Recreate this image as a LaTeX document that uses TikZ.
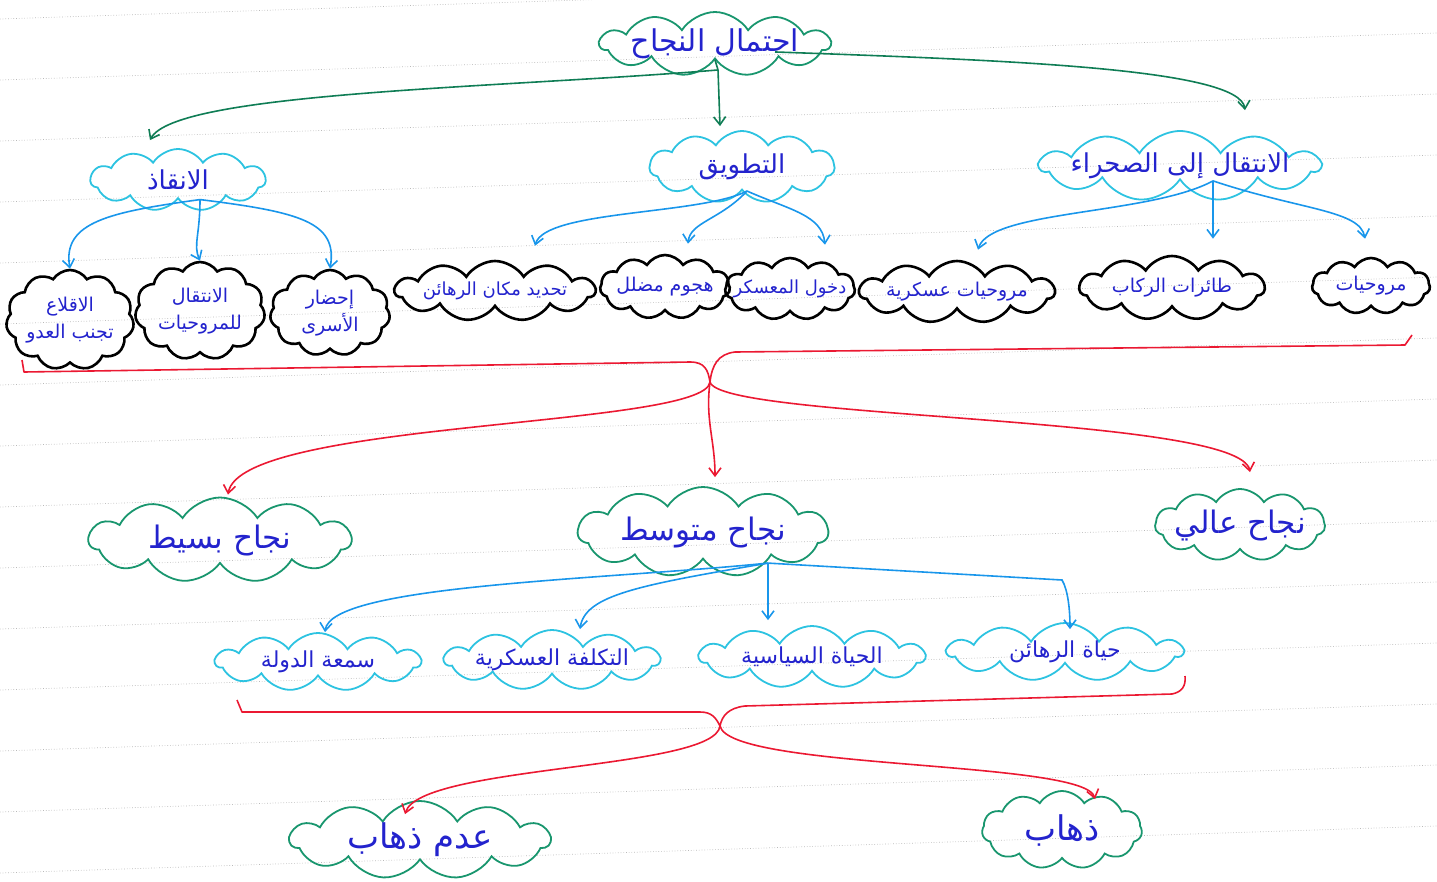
\documentclass[tikz,border=0pt]{standalone}
\usepackage{fontspec}
\TeXXeTstate=1
\newfontfamily\arfont[Script=Arabic]{DejaVu Sans}
\newcommand{\AR}[1]{{\arfont\beginR #1\endR}}
\newcommand{\Z}[1]{\makebox[0pt][c]{#1}}
\usetikzlibrary{shapes.symbols,arrows.meta,calc}
\definecolor{cgreen}{RGB}{25,150,110}
\definecolor{ccyan}{RGB}{45,195,225}
\definecolor{tblue}{RGB}{35,35,205}
\definecolor{agreen}{RGB}{15,125,85}
\definecolor{ablue}{RGB}{25,150,235}
\definecolor{cred}{RGB}{235,25,50}
\begin{document}
\begin{tikzpicture}[x=1pt,y=-1pt,
  cl/.style={cloud, cloud puffs=11, cloud puff arc=115, cloud ignores aspect, inner sep=0pt, text=tblue},
  gcl/.style={cl, draw=cgreen, line width=1.8pt},
  ccl/.style={cl, draw=ccyan, line width=1.8pt},
  bcl/.style={cl, draw=black, line width=2.6pt},
  tip/.style={-{Straight Barb[length=8pt,width=12pt,line width=1.6pt]}},
  ga/.style={draw=agreen, line width=1.6pt, tip},
  ca/.style={draw=ablue, line width=1.6pt, tip},
  ra/.style={draw=cred, line width=1.6pt, tip},
  rb/.style={draw=cred, line width=1.6pt, line join=round},
  ruled/.style={draw=gray!55, dotted, line width=0.7pt},
  ttl/.style={font=\fontsize{30}{34}\selectfont},
  big/.style={font=\fontsize{31}{36}\selectfont},
  mid/.style={font=\fontsize{26}{30}\selectfont},
  sml/.style={font=\fontsize{19}{24}\selectfont},
  two/.style={font=\fontsize{19}{27}\selectfont},
  row5/.style={font=\fontsize{22}{26}\selectfont},
  row6/.style={font=\fontsize{34}{38}\selectfont}
]
\useasboundingbox (0,0) rectangle (1437,881);
\clip (0,0) rectangle (1437,881);
\foreach \k in {0,...,14} \draw[ruled] (0,{19+61*\k}) -- (1437,{19+61*\k-47});

% top
\node[gcl, ttl, minimum width=230pt, minimum height=64pt] (top) at (715,44) {\Z{\AR{احتمال النجاح}}};

% row 2
\node[ccl, mid, minimum width=175pt, minimum height=62pt] (ingadh) at (178,180) {\Z{\AR{الانقاذ}}};
\node[ccl, mid, minimum width=185pt, minimum height=72pt] (tatwiq) at (742,167) {\Z{\AR{التطويق}}};
\node[ccl, mid, minimum width=280pt, minimum height=70pt] (intiqal) at (1180,166) {\Z{\AR{الانتقال إلى الصحراء}}};

\coordinate (j0) at ($(top.south)+(3,10)$);
\draw[draw=agreen, line width=1.6pt] (top.south) -- (j0);
\draw[ga] (j0) .. controls (500,88) and (175,92) .. ($(ingadh.north)+(-28,-8)$);
\draw[ga] (j0) -- ($(tatwiq.north)+(-22,-4)$);
\draw[ga] ($(top.south)+(60,-8)$) .. controls (1000,60) and (1240,68) .. ($(intiqal.north)+(65,-20)$);

% row 3
\node[bcl, two, minimum width=128pt, minimum height=100pt] (a1) at (70,320) {\Z{\begin{tabular}{@{}c@{}}\AR{الاقلاع}\\\AR{تجنب العدو}\end{tabular}}};
\node[bcl, two, minimum width=130pt, minimum height=98pt] (a2) at (200,311) {\Z{\begin{tabular}{@{}c@{}}\AR{الانتقال}\\\AR{للمروحيات}\end{tabular}}};
\node[bcl, two, minimum width=120pt, minimum height=86pt] (a3) at (330,313) {\Z{\begin{tabular}{@{}c@{}}\AR{إحضار}\\\AR{الأسرى}\end{tabular}}};
\node[bcl, sml, minimum width=200pt, minimum height=60pt, font=\fontsize{18}{22}\selectfont] (a4) at (495,291) {\Z{\AR{تحديد مكان الرهائن}}};
\node[bcl, sml, minimum width=130pt, minimum height=64pt] (a5) at (665,287) {\Z{\AR{هجوم مضلل}}};
\node[bcl, sml, minimum width=130pt, minimum height=62pt, font=\fontsize{18}{22}\selectfont] (a6) at (790,289) {\Z{\AR{دخول المعسكر}}};
\node[bcl, sml, minimum width=195pt, minimum height=62pt] (a7) at (957,292) {\Z{\AR{مروحيات عسكرية}}};
\node[bcl, sml, minimum width=185pt, minimum height=64pt] (a8) at (1172,288) {\Z{\AR{طائرات الركاب}}};
\node[bcl, sml, minimum width=118pt, minimum height=56pt] (a9) at (1371,286) {\Z{\AR{مروحيات}}};

\coordinate (j1) at ($(ingadh.south)+(22,0)$);
\draw[ca] (j1) .. controls (110,212) and (62,222) .. (a1.north);
\draw[ca] (j1) .. controls (200,235) and (193,245) .. (a2.north);
\draw[ca] (j1) .. controls (300,212) and (338,222) .. (a3.north);
\coordinate (j2) at ($(tatwiq.south)+(5,0)$);
\draw[ca] (j2) .. controls (700,215) and (545,210) .. ($(a4.north)+(40,-14)$);
\draw[ca] (j2) .. controls (720,220) and (690,222) .. ($(a5.north)+(23,-10)$);
\draw[ca] (j2) .. controls (790,210) and (822,215) .. ($(a6.north)+(35,-12)$);
\coordinate (j3) at ($(intiqal.south)+(33,0)$);
\draw[ca] (j3) .. controls (1150,215) and (990,210) .. ($(a7.north)+(21,-10)$);
\draw[ca] (j3) -- ($(a8.north)+(41,-16)$);
\draw[ca] (j3) .. controls (1300,210) and (1360,210) .. ($(a9.north)+(-6,-18)$);

% brace 1
\coordinate (b1) at (710,382);
\draw[rb] (22,360) -- (24,372) -- (690,362) .. controls (705,362) and (708,370) .. (b1) .. controls (712,365) and (718,354) .. (735,352) -- (1405,345) -- (1412,335);

% row 4
\node[gcl, big, minimum width=262pt, minimum height=85pt] (n1) at (220,540) {\Z{\AR{نجاح بسيط}}};
\node[gcl, big, minimum width=250pt, minimum height=90pt] (n2) at (703,532) {\Z{\AR{نجاح متوسط}}};
\node[gcl, big, minimum width=170pt, minimum height=72pt] (n3) at (1240,525) {\Z{\AR{نجاح عالي}}};

\draw[ra] (b1) .. controls (705,428) and (240,420) .. ($(n1.north)+(8,-2)$);
\draw[ra] (b1) .. controls (705,420) and (715,440) .. ($(n2.north)+(12,-9)$);
\draw[ra] (b1) .. controls (720,420) and (1240,415) .. ($(n3.north)+(10,-16)$);

% row 5
\node[ccl, row5, minimum width=205pt, minimum height=58pt] (s1) at (318,662) {\Z{\AR{سمعة الدولة}}};
\node[ccl, row5, minimum width=215pt, minimum height=60pt] (s2) at (552,660) {\Z{\AR{التكلفة العسكرية}}};
\node[ccl, row5, minimum width=225pt, minimum height=62pt] (s3) at (812,657) {\Z{\AR{الحياة السياسية}}};
\node[ccl, row5, minimum width=235pt, minimum height=58pt] (s4) at (1065,652) {\Z{\AR{حياة الرهائن}}};

\coordinate (j4) at ($(n2.south)+(65,3)$);
\draw[ca] (j4) .. controls (600,580) and (330,585) .. ($(s1.north)+(7,0)$);
\draw[ca] (j4) .. controls (640,585) and (585,595) .. ($(s2.north)+(28,0)$);
\draw[ca] (j4) -- ($(s3.north)+(-44,-5)$);
\draw[ca] (j4) -- (1062,580) .. controls (1068,590) and (1070,610) .. ($(s4.north)+(5,7)$);

% brace 2
\coordinate (b2) at (720,726);
\draw[rb] (237,700) -- (242,712) -- (700,712) .. controls (712,712) and (716,718) .. (b2) .. controls (722,716) and (728,708) .. (745,706) -- (1172,694) .. controls (1182,692) and (1186,686) .. (1185,676);

% row 6
\node[gcl, row6, minimum width=260pt, minimum height=78pt] (g1) at (420,840) {\Z{\AR{عدم ذهاب}}};
\node[gcl, row6, minimum width=160pt, minimum height=78pt] (g2) at (1062,830) {\Z{\AR{ذهاب}}};

\draw[ra] (b2) .. controls (715,770) and (420,765) .. ($(g1.north)+(-15,14)$);
\draw[ra] (b2) .. controls (730,770) and (1085,760) .. ($(g2.north)+(33,9)$);
\end{tikzpicture}
\end{document}
